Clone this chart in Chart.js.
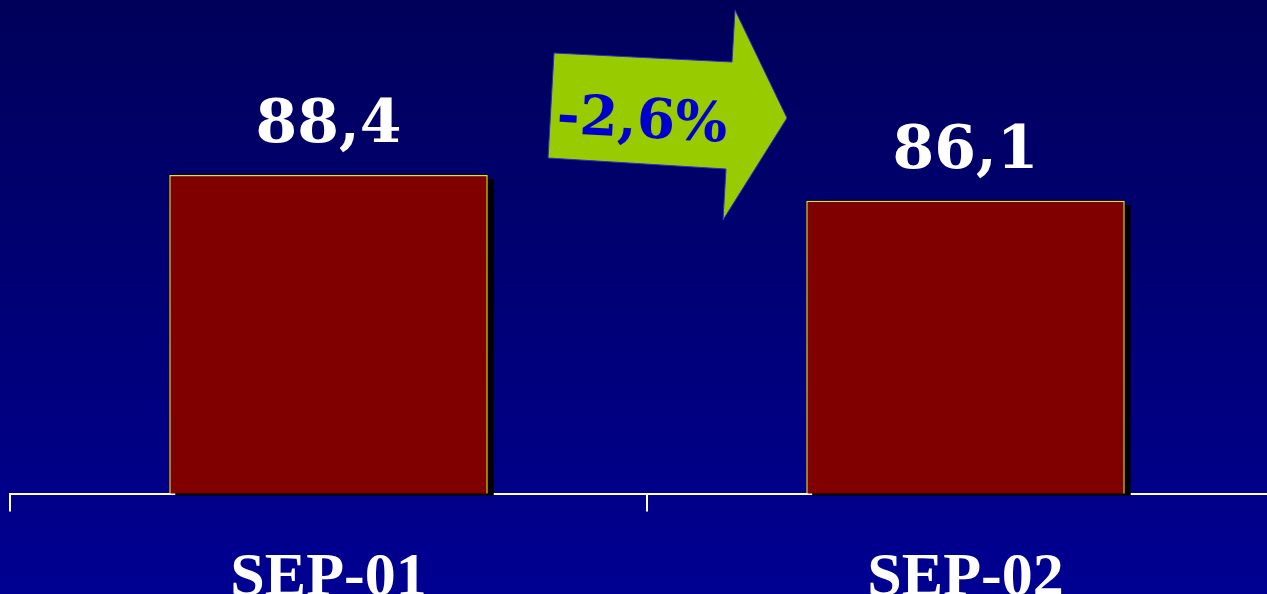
<!DOCTYPE html>
<html>
<head>
<meta charset="utf-8">
<script src="https://cdn.jsdelivr.net/npm/chart.js@4/dist/chart.umd.min.js"></script>
<style>
  html, body { margin: 0; padding: 0; overflow: hidden; background: #000088; }
  #wrap { width: 1300px; height: 646px; }
</style>
</head>
<body>
<div id="wrap"><canvas id="chart" width="1300" height="646"></canvas></div>
<script>
const categories = ["SEP-01", "SEP-02"]
const values = [88.4, 86.1]
const changeLabel = "-2,6%"

const fmt = v => v.toFixed(1).replace(".", ",")

// page background: dark navy fading to blue
const background = {
  id: "background",
  beforeDraw(chart) {
    const { ctx, width } = chart
    const g = ctx.createLinearGradient(0, 0, 0, 594)
    g.addColorStop(0, "#00005a")
    g.addColorStop(1, "#000092")
    ctx.save()
    ctx.fillStyle = g
    ctx.fillRect(0, 0, width, chart.height)
    ctx.restore()
  }
}

// black drop shadow behind each bar
const barShadow = {
  id: "barShadow",
  beforeDatasetsDraw(chart) {
    const { ctx, chartArea } = chart
    ctx.save()
    ctx.fillStyle = "#000000"
    chart.getDatasetMeta(0).data.forEach(bar => {
      const p = bar.getProps(["x", "y", "width"], true)
      ctx.fillRect(p.x - p.width / 2 + 6, p.y + 4, p.width, chartArea.bottom + 2 - (p.y + 4))
    })
    ctx.restore()
  }
}

// value labels above the bars
const valueLabels = {
  id: "valueLabels",
  afterDatasetsDraw(chart) {
    const { ctx } = chart
    ctx.save()
    ctx.fillStyle = "#ffffff"
    ctx.font = "bold 60px 'DejaVu Serif'"
    ctx.textAlign = "center"
    ctx.textBaseline = "alphabetic"
    chart.getDatasetMeta(0).data.forEach((bar, i) => {
      ctx.fillText(fmt(values[i]), bar.x, bar.y - 33)
    })
    ctx.restore()
  }
}

// green arrow with the change between the two months
const changeArrow = {
  id: "changeArrow",
  afterDraw(chart) {
    const { ctx } = chart
    const bars = chart.getDatasetMeta(0).data
    const cx = (bars[0].x + bars[1].x) / 2
    const top = chart.chartArea.top
    const pts = [[-93, 53], [85, 62], [88, 10], [140, 118], [76, 220], [79, 169], [-99, 158]]
    ctx.save()
    ctx.beginPath()
    pts.forEach(([dx, dy], i) => {
      if (i === 0) ctx.moveTo(cx + dx, top + dy)
      else ctx.lineTo(cx + dx, top + dy)
    })
    ctx.closePath()
    ctx.fillStyle = "#99cc00"
    ctx.fill()
    ctx.strokeStyle = "#2a2ad0"
    ctx.lineWidth = 1
    ctx.stroke()

    ctx.translate(cx - 5, top + 123)
    ctx.rotate(3 * Math.PI / 180)
    ctx.fillStyle = "#0000cc"
    ctx.font = "bold 55px 'DejaVu Serif'"
    ctx.textAlign = "center"
    ctx.textBaseline = "middle"
    ctx.fillText(changeLabel, 0, 0)
    ctx.restore()
  }
}

new Chart(document.getElementById("chart"), {
  type: "bar",
  data: {
    labels: categories,
    datasets: [{
      data: values,
      backgroundColor: "#800000",
      borderColor: "#f2e000",
      borderWidth: 1.5,
      categoryPercentage: 1,
      barPercentage: 0.5
    }]
  },
  options: {
    responsive: false,
    animation: false,
    layout: { padding: { left: 10, right: 16, top: 0, bottom: 0 } },
    plugins: { legend: { display: false }, tooltip: { enabled: false } },
    scales: {
      y: { display: false, min: 60, max: 104 },
      x: {
        border: { color: "#ffffff", width: 2 },
        grid: { color: "#ffffff", lineWidth: 2, drawOnChartArea: false, tickLength: 18, offset: true },
        ticks: {
          color: "#ffffff",
          padding: 30,
          maxRotation: 0,
          autoSkip: false,
          font: { family: "'Liberation Serif'", weight: "bold", size: 62 }
        }
      }
    }
  },
  plugins: [background, barShadow, valueLabels, changeArrow]
})
</script>
</body>
</html>
